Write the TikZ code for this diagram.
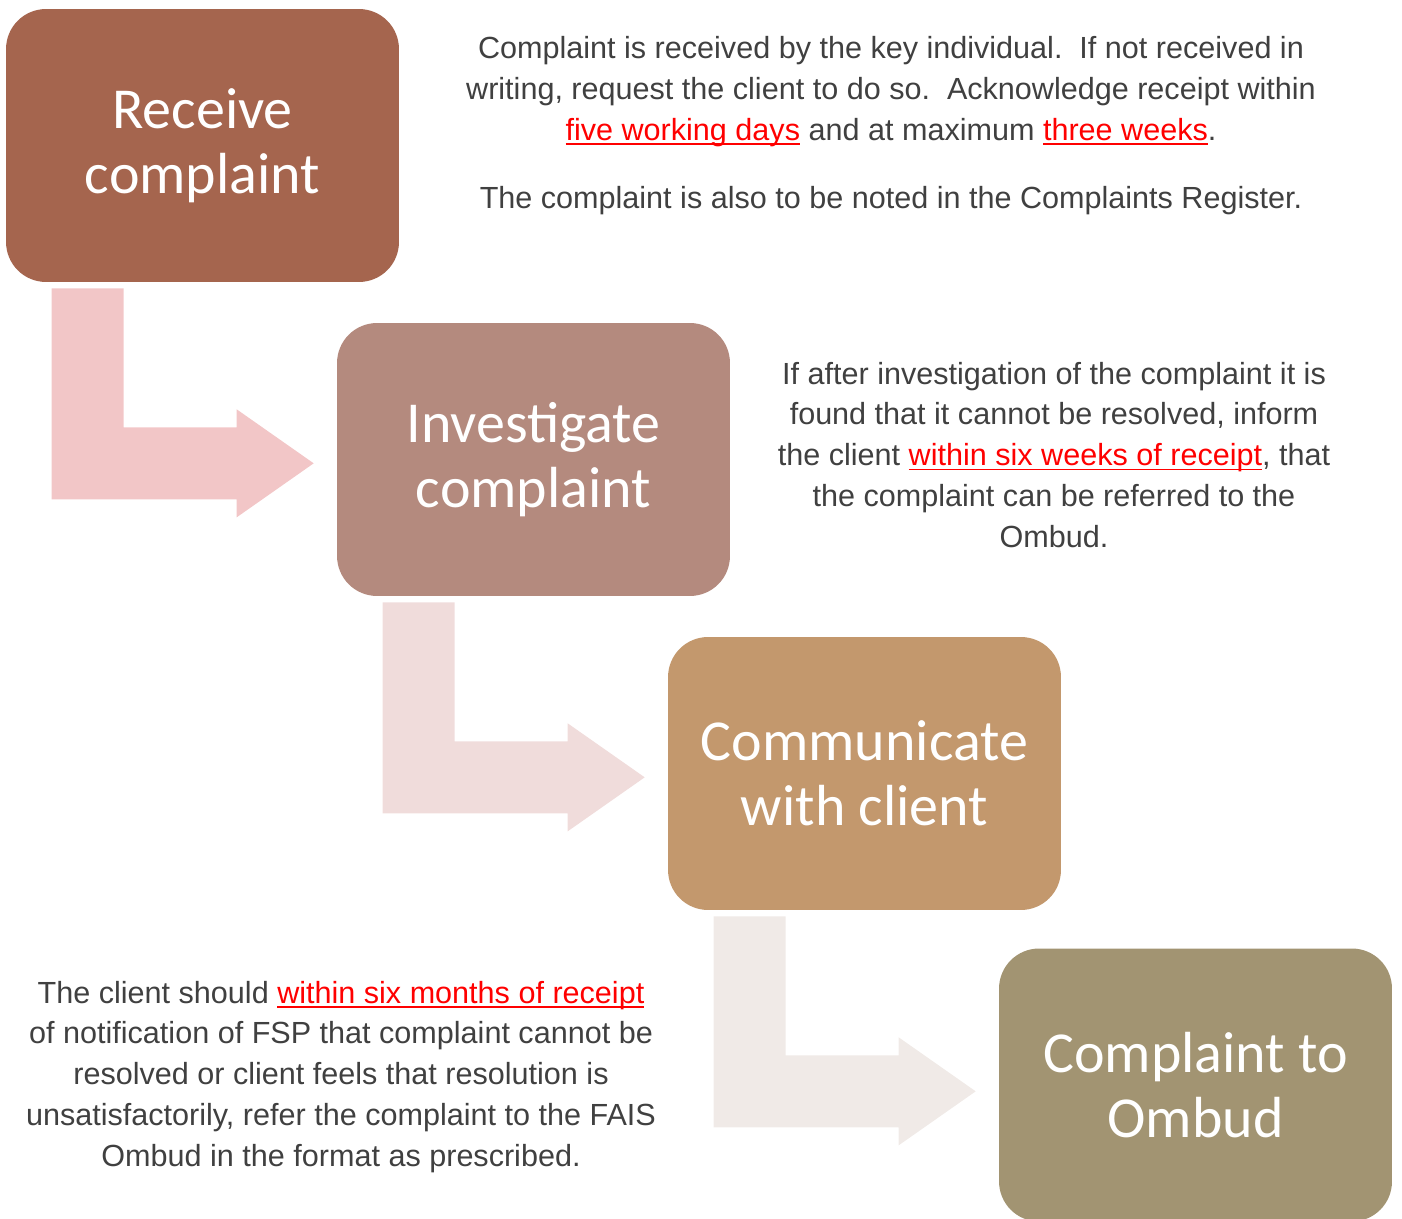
\documentclass[tikz,border=0pt]{standalone}
\usepackage{fontspec}
\setmainfont{Liberation Sans}
\newfontfamily\boxfont{Carlito}
\usetikzlibrary{positioning}
\usepackage{xcolor}

\definecolor{receiveC}{HTML}{A5654E}
\definecolor{investC}{HTML}{B48A7E}
\definecolor{commC}{HTML}{C3986D}
\definecolor{ombudC}{HTML}{A29472}
\definecolor{arrowA}{HTML}{F2C6C7}
\definecolor{arrowB}{HTML}{F0DCDB}
\definecolor{arrowC}{HTML}{F0EAE7}
\definecolor{textgray}{HTML}{404040}
\definecolor{hilite}{HTML}{FF0000}

\newcommand{\due}[1]{\textcolor{hilite}{\setbox0\hbox{#1}\rlap{\rule[-2.6pt]{\wd0}{1.1pt}}\box0}}

\begin{document}
\begin{tikzpicture}[x=0.02cm,y=-0.02cm,
    stepbox/.style={rounded corners=0.8cm, minimum width=7.86cm, minimum height=5.46cm,
        inner sep=0pt, text=white, align=center, font=\boxfont\fontsize{33}{37}\selectfont},
    note/.style={align=center, text=textgray, font=\fontsize{17.4}{23.3}\selectfont}]
    \useasboundingbox (0,0) rectangle (1402,1219);

    \node[stepbox, fill=receiveC] (receive) at (202.5,145.5) {Receive\\complaint};
    \node[stepbox, fill=investC] (investigate) at (533.5,459.5) {Investigate\\complaint};
    \node[stepbox, fill=commC] (communicate) at (864.5,773.5) {Communicate\\with client};
    \node[stepbox, fill=ombudC] (ombud) at (1195.5,1085) {Complaint to\\Ombud};

    % elbow arrows under each box
    \foreach \from/\col in {receive/arrowA, investigate/arrowB, communicate/arrowC}
        \fill[\col] ([shift={(46,6)}]\from.south west) -- ++(72,0) -- ++(0,139)
            -- ++(113,0) -- ++(0,-18) -- ++(77,54) -- ++(-77,54) -- ++(0,-18)
            -- ++(-185,0) -- cycle;

    \node[note] (receivenote) at (891,125.5) {Complaint is received by the key individual.\ \ If not received in\\
        writing, request the client to do so.\ \ Acknowledge receipt within\\
        \due{five working days} and at maximum \due{three weeks}.\\[0.53cm]
        The complaint is also to be noted in the Complaints Register.};
    \node[note] (investnote) at (1054,455) {If after investigation of the complaint it is\\
        found that it cannot be resolved, inform\\
        the client \due{within six weeks of receipt}, that\\
        the complaint can be referred to the\\
        Ombud.};
    \node[note] (clientnote) at (341,1077) {The client should \due{within six months of receipt}\\
        of notification of FSP that complaint cannot be\\
        resolved or client feels that resolution is\\
        unsatisfactorily, refer the complaint to the FAIS\\
        Ombud in the format as prescribed.};
\end{tikzpicture}
\end{document}
